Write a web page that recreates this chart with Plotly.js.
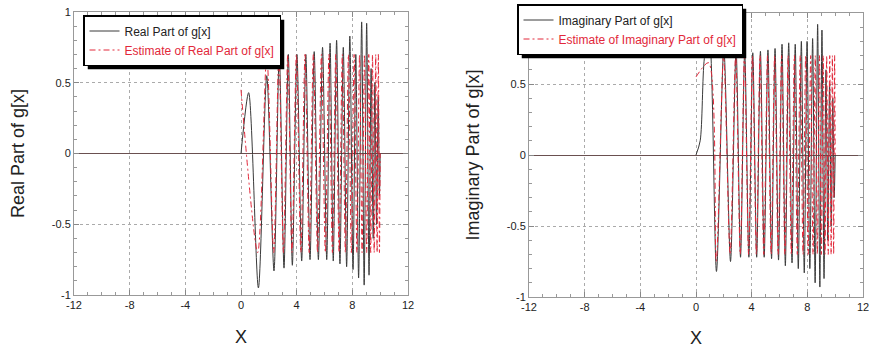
<!DOCTYPE html>
<html><head><meta charset="utf-8">
<script src="https://cdn.plot.ly/plotly-3.0.1.min.js"></script>
<style>html,body{margin:0;padding:0;background:#fff}#c{width:869px;height:348px}</style>
</head><body><div id="c"></div>
<script>
// Tick labels
const xTickVals = [-12, -8, -4, 0, 4, 8, 12];
const xTickText = ["-12", "-8", "-4", "0", "4", "8", "12"];
const yTickVals = [-1, -0.5, 0, 0.5, 1];
const yTickText = ["-1", "-0.5", "0", "0.5", "1"];

// Real part of g[x] (extrema)
const realX = [0, 0.55, 1.25, 1.85, 2.37, 2.75, 3.09, 3.4, 3.69, 4.02, 4.36, 4.66, 4.96, 5.26, 5.56, 5.86, 6.16, 6.4, 6.63, 6.87, 7.11, 7.35, 7.59, 7.82, 8.05, 8.25, 8.45, 8.67, 8.85, 9.03, 9.2, 9.35, 9.5, 9.62, 9.74, 9.86, 9.95, 10];
const realY = [0, 0.43, -0.95, 0.55, -0.83, 0.7, -0.81, 0.7, -0.79, 0.7, -0.76, 0.7, -0.75, 0.72, -0.75, 0.75, -0.75, 0.78, -0.76, 0.8, -0.78, 0.75, -0.8, 0.83, -0.82, 0.7, -0.88, 0.93, -0.93, 0.92, -0.86, 0.6, -0.6, 0.5, -0.5, 0.4, -0.3, 0];

// Estimate of real part
const estRealX = [0, 1.2, 1.85, 2.35, 2.72, 3.05, 3.36, 3.66, 3.98, 4.3, 4.6, 4.9, 5.2, 5.5, 5.78, 6.06, 6.32, 6.57, 6.81, 7.05, 7.28, 7.5, 7.72, 7.93, 8.13, 8.33, 8.52, 8.7, 8.87, 9.03, 9.18, 9.32, 9.45, 9.57, 9.68, 9.78, 9.87, 9.95, 10];
const estRealY = [0.45, -0.7, 0.7, -0.7, 0.7, -0.7, 0.7, -0.7, 0.7, -0.7, 0.7, -0.7, 0.7, -0.7, 0.7, -0.7, 0.7, -0.7, 0.7, -0.7, 0.7, -0.7, 0.7, -0.7, 0.7, -0.7, 0.7, -0.7, 0.7, -0.7, 0.7, -0.7, 0.7, -0.7, 0.7, -0.7, 0.7, -0.7, 0];

// Imaginary part of g[x]
const imagX = [0, 0.3, 0.6, 0.95, 1.47, 2.0, 2.48, 2.88, 3.2, 3.5, 3.8, 4.08, 4.36, 4.63, 4.9, 5.17, 5.43, 5.68, 5.93, 6.18, 6.42, 6.66, 6.9, 7.13, 7.35, 7.57, 7.78, 7.98, 8.18, 8.38, 8.56, 8.74, 8.9, 9.05, 9.2, 9.34, 9.47, 9.6, 9.72, 9.83, 9.93, 10];
const imagY = [0, 0.1, 0.68, 0.85, -0.82, 0.75, -0.75, 0.74, -0.72, 0.73, -0.72, 0.72, -0.72, 0.73, -0.72, 0.74, -0.73, 0.75, -0.74, 0.78, -0.78, 0.79, -0.76, 0.78, -0.8, 0.8, -0.83, 0.8, -0.8, 0.82, -0.9, 0.92, -0.93, 0.88, -0.87, 0.6, -0.6, 0.5, -0.5, 0.4, -0.3, 0];

// Estimate of imaginary part
const estImagX = [0, 0.9, 1.45, 1.98, 2.45, 2.85, 3.18, 3.48, 3.78, 4.06, 4.34, 4.6, 4.87, 5.14, 5.4, 5.65, 5.9, 6.15, 6.39, 6.62, 6.85, 7.07, 7.28, 7.49, 7.69, 7.88, 8.06, 8.24, 8.41, 8.57, 8.72, 8.87, 9.01, 9.14, 9.27, 9.39, 9.5, 9.61, 9.71, 9.8, 9.89, 9.96, 10];
const estImagY = [0.55, 0.65, -0.75, 0.7, -0.7, 0.7, -0.7, 0.7, -0.7, 0.7, -0.7, 0.7, -0.7, 0.7, -0.7, 0.7, -0.7, 0.7, -0.7, 0.7, -0.7, 0.7, -0.7, 0.7, -0.7, 0.7, -0.7, 0.7, -0.7, 0.7, -0.7, 0.7, -0.7, 0.7, -0.7, 0.7, -0.7, 0.7, -0.7, 0.7, -0.7, 0.7, 0];

const BLACK = '#3a3a3a', RED = '#e2283a';
const FONT = 'Liberation Sans, Arial, sans-serif';
const W = 869, H = 348;

const traces = [
  {x: realX, y: realY, xaxis: 'x', yaxis: 'y', mode: 'lines', line: {color: BLACK, width: 1, shape: 'spline', smoothing: 0.8},
    name: 'Real Part of g[x]', legend: 'legend'},
  {x: estRealX, y: estRealY, xaxis: 'x', yaxis: 'y', mode: 'lines', line: {color: RED, width: 1, dash: '6px,3px,2px,3px', shape: 'spline', smoothing: 0.8},
    name: '<span style="color:#e2283a">Estimate of Real Part of g[x]</span>', legend: 'legend'},
  {x: imagX, y: imagY, xaxis: 'x2', yaxis: 'y2', mode: 'lines', line: {color: BLACK, width: 1, shape: 'spline', smoothing: 0.8},
    name: 'Imaginary Part of g[x]', legend: 'legend2'},
  {x: estImagX, y: estImagY, xaxis: 'x2', yaxis: 'y2', mode: 'lines', line: {color: RED, width: 1, dash: '6px,3px,2px,3px', shape: 'spline', smoothing: 0.8},
    name: '<span style="color:#e2283a">Estimate of Imaginary Part of g[x]</span>', legend: 'legend2'}
];

function xax(dom, anchor) {
  return {domain: dom, anchor: anchor, range: [-12, 12], tickvals: xTickVals, ticktext: xTickText,
    showline: true, linecolor: '#999', linewidth: 1, mirror: 'ticks', ticks: 'inside', ticklen: 5, tickcolor: '#888',
    minor: {ticks: 'inside', dtick: 1, ticklen: 3, tickcolor: '#999', showgrid: false},
    showgrid: true, gridcolor: '#aaa', griddash: 'dot', gridwidth: 1, zeroline: false,
    ticklabeloverflow: 'allow',
    tickfont: {family: FONT, size: 11, color: '#222'},
    title: {text: 'X', font: {family: FONT, size: 18, color: '#222'}, standoff: 20}};
}
function yax(dom, anchor, title) {
  return {domain: dom, anchor: anchor, range: [-1, 1], tickvals: yTickVals, ticktext: yTickText,
    showline: true, linecolor: '#999', linewidth: 1, mirror: 'ticks', ticks: 'inside', ticklen: 5, tickcolor: '#888',
    minor: {ticks: 'inside', dtick: 0.1, ticklen: 3, tickcolor: '#999', showgrid: false},
    showgrid: true, gridcolor: '#aaa', griddash: 'dot', gridwidth: 1,
    zeroline: true, zerolinecolor: '#6a5050', zerolinewidth: 1,
    tickfont: {family: FONT, size: 11, color: '#222'},
    title: {text: title, font: {family: FONT, size: 18, color: '#222'}, standoff: 22}};
}

const legBase = {bgcolor: '#fff', bordercolor: '#000', borderwidth: 1.5, xanchor: 'left', yanchor: 'top',
  font: {family: FONT, size: 12, color: '#222'}, tracegroupgap: 0, itemwidth: 30};

const layout = {
  width: W, height: H, margin: {l: 0, r: 0, t: 0, b: 0}, paper_bgcolor: '#fff', plot_bgcolor: '#fff',
  showlegend: true,
  xaxis: xax([74/W, 408/W], 'y'),
  yaxis: yax([53/H, 336/H], 'x', 'Real Part of g[x]'),
  xaxis2: xax([529/W, 863/W], 'y2'),
  yaxis2: yax([51/H, 335/H], 'x2', 'Imaginary Part of g[x]'),
  legend: Object.assign({}, legBase, {x: 83/W, y: 1 - 15/H}),
  legend2: Object.assign({}, legBase, {x: 517/W, y: 1 - 4/H})
};

Plotly.newPlot('c', traces, layout, {displayModeBar: false, staticPlot: true}).then(function (gd) {
  // drop shadow under each legend box, sized from the rendered legend
  const root = gd.getBoundingClientRect();
  const shapes = [];
  gd.querySelectorAll('g.legend, g.legend2').forEach(function (g) {
    const bg = g.querySelector('rect.bg');
    if (!bg) return;
    const r = bg.getBoundingClientRect();
    const x0 = r.left - root.left + 4, x1 = r.right - root.left + 4;
    const y0 = r.top - root.top + 4, y1 = r.bottom - root.top + 4;
    shapes.push({type: 'rect', xref: 'paper', yref: 'paper', x0: x0 / W, x1: x1 / W, y0: 1 - y1 / H, y1: 1 - y0 / H,
      fillcolor: '#000', line: {width: 0}, layer: 'above'});
  });
  return Plotly.relayout(gd, {shapes: shapes});
});
</script>
</body></html>
